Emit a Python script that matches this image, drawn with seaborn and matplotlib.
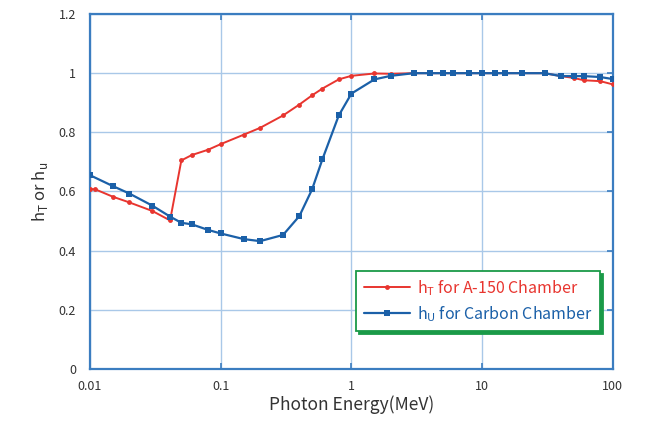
import numpy as np
import pandas as pd
import matplotlib
matplotlib.use("Agg")
import matplotlib.pyplot as plt
import seaborn as sns
from matplotlib.ticker import FixedLocator, FixedFormatter, NullLocator

# ---- data ----
energy_t = [0.01, 0.011, 0.015, 0.02, 0.03, 0.041, 0.05, 0.06, 0.08, 0.1, 0.15, 0.2,
            0.3, 0.4, 0.5, 0.6, 0.8, 1.0, 1.5, 2.0, 3.0, 4.0, 5.0, 6.0, 8.0, 10.0,
            15.0, 20.0, 30.0, 40.0, 50.0, 60.0, 80.0, 100.0]
h_t = [0.608, 0.607, 0.582, 0.563, 0.534, 0.502, 0.705, 0.723, 0.741, 0.760, 0.792, 0.815,
       0.857, 0.894, 0.925, 0.948, 0.979, 0.991, 0.999, 0.998, 1.0, 1.0, 1.0, 1.0, 1.0, 1.0,
       1.0, 1.0, 1.0, 0.990, 0.984, 0.976, 0.973, 0.962]

energy_u = [0.01, 0.015, 0.02, 0.03, 0.041, 0.05, 0.06, 0.08, 0.1, 0.15, 0.2, 0.3,
            0.4, 0.5, 0.6, 0.8, 1.0, 1.5, 2.0, 3.0, 4.0, 5.0, 6.0, 8.0, 10.0, 12.5,
            15.0, 20.0, 30.0, 40.0, 50.0, 60.0, 80.0, 100.0]
h_u = [0.655, 0.618, 0.593, 0.552, 0.515, 0.494, 0.489, 0.470, 0.458, 0.439, 0.432, 0.453,
       0.517, 0.607, 0.709, 0.857, 0.931, 0.979, 0.991, 1.0, 1.0, 1.0, 1.0, 1.0, 1.0, 1.0,
       1.0, 1.0, 1.0, 0.990, 0.990, 0.990, 0.987, 0.980]

x_ticks = [0.01, 0.1, 1, 10, 100]
x_tick_labels = ["0.01", "0.1", "1", "10", "100"]
y_ticks = [0, 0.2, 0.4, 0.6, 0.8, 1.0, 1.2]
y_tick_labels = ["0", "0.2", "0.4", "0.6", "0.8", "1", "1.2"]

label_t = r"h$_\mathregular{T}$ for A-150 Chamber"
label_u = r"h$_\mathregular{U}$ for Carbon Chamber"

RED = "#e8352f"
BLUE = "#1b60a8"
FRAME = "#3b7dc0"
GRID = "#a9c8e8"
GREEN = "#1a9a48"
TXT = "#333333"

sns.set_theme(style="white")
plt.rcParams["font.family"] = ["Noto Sans CJK JP", "DejaVu Sans"]
plt.rcParams["mathtext.fontset"] = "custom"
plt.rcParams["mathtext.rm"] = "Noto Sans CJK JP"

fig = plt.figure(figsize=(6.52, 4.25), dpi=100)
ax = fig.add_axes([0.138, 0.132, 0.802, 0.835])

df_t = pd.DataFrame({"E": energy_t, "h": h_t})
df_u = pd.DataFrame({"E": energy_u, "h": h_u})

sns.lineplot(data=df_t, x="E", y="h", ax=ax, color=RED, lw=1.4, marker="o",
             markersize=3.5, markeredgewidth=0, label=label_t, zorder=3)
sns.lineplot(data=df_u, x="E", y="h", ax=ax, color=BLUE, lw=1.6, marker="s",
             markersize=4.0, markeredgewidth=0, label=label_u, zorder=4)

ax.set_xscale("log")
ax.set_xlim(0.01, 100)
ax.set_ylim(0, 1.2)
ax.xaxis.set_major_locator(FixedLocator(x_ticks))
ax.xaxis.set_major_formatter(FixedFormatter(x_tick_labels))
ax.xaxis.set_minor_locator(NullLocator())
ax.yaxis.set_major_locator(FixedLocator(y_ticks))
ax.yaxis.set_major_formatter(FixedFormatter(y_tick_labels))

ax.grid(True, color=GRID, lw=1.0)
ax.set_axisbelow(True)
for s in ax.spines.values():
    s.set_visible(True)
    s.set_color(FRAME)
    s.set_linewidth(1.6)

ax.tick_params(axis="x", which="major", direction="in", length=4, color=FRAME,
               width=1.2, top=True, bottom=True, labelsize=9, labelcolor=TXT, pad=8)
ax.tick_params(axis="y", which="major", direction="in", length=4, color=FRAME,
               width=1.2, left=False, right=True, labelsize=9, labelcolor=TXT, pad=10)

ax.set_xlabel("Photon Energy(MeV)", fontsize=12.5, color=TXT, labelpad=2)
ax.set_ylabel(r"h$_\mathregular{T}$ or h$_\mathregular{u}$", fontsize=12, color=TXT, labelpad=6)

leg = ax.legend(loc="lower right", bbox_to_anchor=(0.975, 0.107), borderaxespad=0,
                frameon=True, fontsize=11.5, handlelength=2.9, handletextpad=0.45,
                borderpad=0.45, labelspacing=0.4, fancybox=False,
                shadow={"color": GREEN, "alpha": 1.0, "ox": 2.2, "oy": -2.2})
leg.get_frame().set_edgecolor(GREEN)
leg.get_frame().set_linewidth(1.3)
leg.get_frame().set_facecolor("white")
for txt, c in zip(leg.get_texts(), [RED, BLUE]):
    txt.set_color(c)

fig.savefig("out.png", dpi=100)
